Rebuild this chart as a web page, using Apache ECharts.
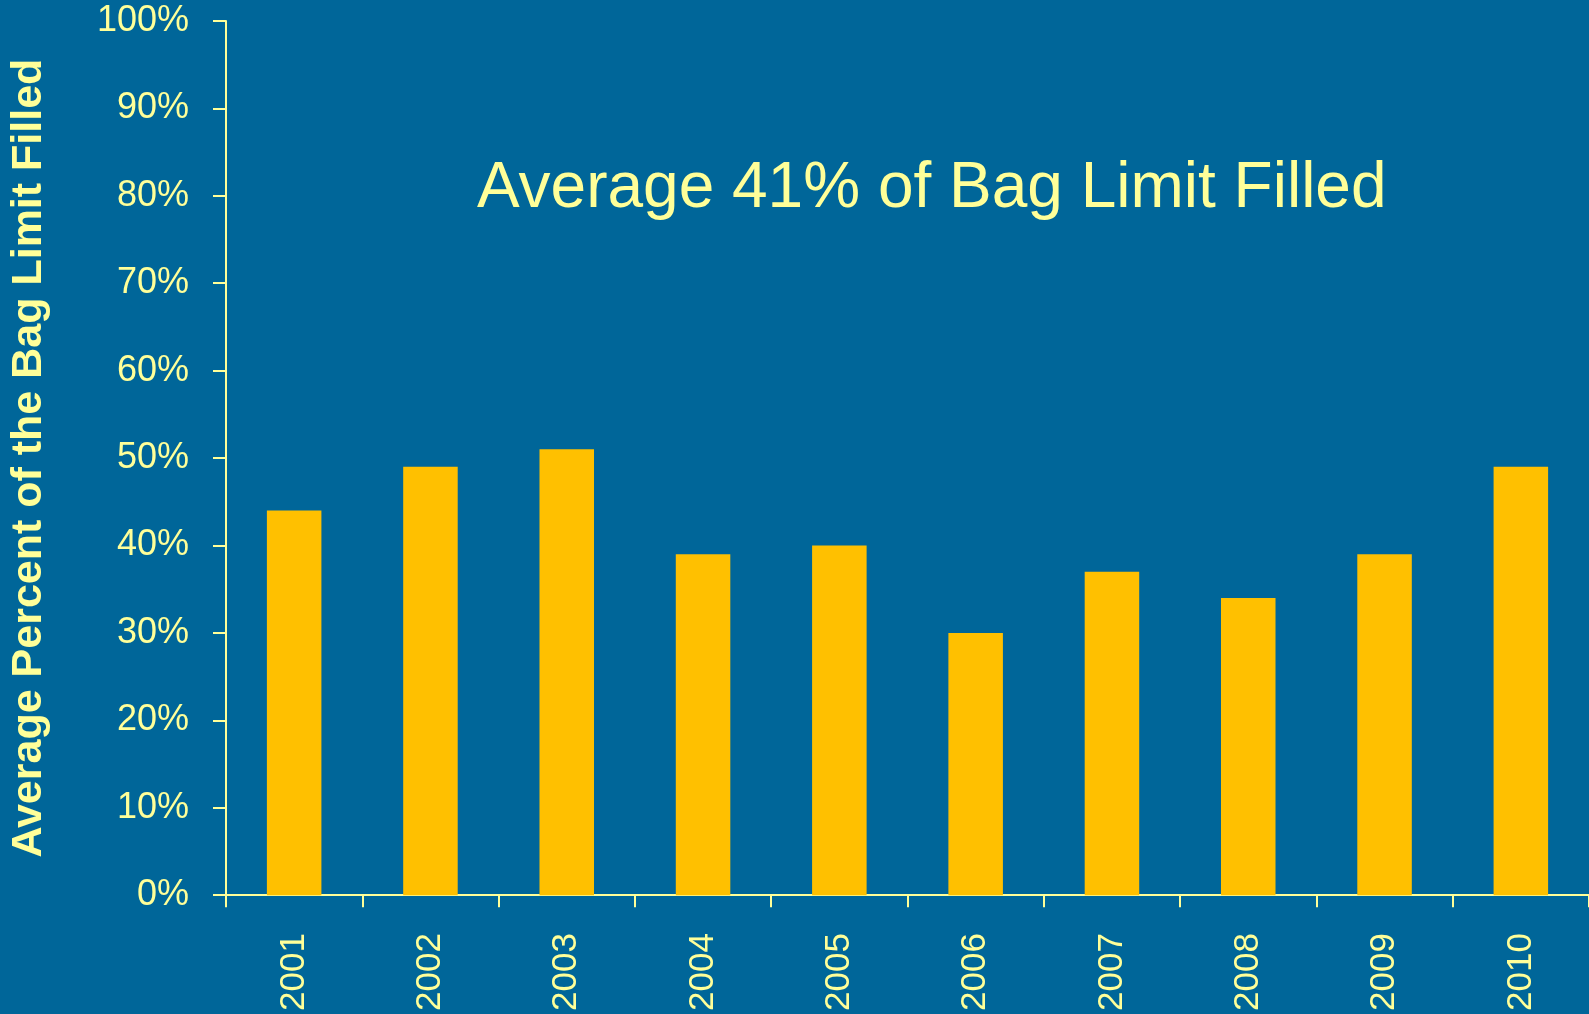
<!DOCTYPE html>
<html><head><meta charset="utf-8">
<style>html,body{margin:0;padding:0;background:#006699;}#c{width:1589px;height:1014px;}</style>
<script src="https://cdn.jsdelivr.net/npm/echarts@6/dist/echarts.min.js"></script>
</head><body><div id="c"></div>
<script>
const years = ['2001','2002','2003','2004','2005','2006','2007','2008','2009','2010'];
const pctFilled = [44, 49, 51, 39, 40, 30, 37, 34, 39, 49];
const yTicks = {min: 0, max: 100, interval: 10};
const titleText = 'Average 41% of Bag Limit Filled';
const yName = 'Average Percent of the Bag Limit Filled';

const txt = '#FFFF99';
const chart = echarts.init(document.getElementById('c'));
chart.setOption({
  backgroundColor: '#006699',
  animation: false,
  grid: {left: 224, right: -9, top: 21, bottom: 117},
  graphic: [{
    type: 'text', left: 477, top: 157,
    style: {text: titleText, fill: txt, font: '64px "Liberation Sans", Arial, sans-serif'}
  }],
  xAxis: {
    type: 'category', data: years,
    axisLine: {lineStyle: {color: txt, width: 2}},
    axisTick: {show: true, length: 12, lineStyle: {color: txt, width: 2}},
    axisLabel: {rotate: 90, color: txt, fontSize: 35, fontFamily: '"Liberation Sans", Arial, sans-serif', margin: 38}
  },
  yAxis: {
    type: 'value', min: yTicks.min, max: yTicks.max, interval: yTicks.interval,
    name: yName, nameLocation: 'middle', nameGap: 175, nameRotate: 90,
    nameTextStyle: {color: txt, fontSize: 43, fontWeight: 'bold', fontFamily: '"Liberation Sans", Arial, sans-serif'},
    splitLine: {show: false},
    axisLine: {show: true, lineStyle: {color: txt, width: 2}},
    axisTick: {show: true, length: 13, lineStyle: {color: txt, width: 2}},
    axisLabel: {color: txt, fontSize: 36, fontFamily: '"Liberation Sans", Arial, sans-serif', margin: 37, formatter: '{value}%'}
  },
  series: [{
    type: 'bar', data: pctFilled, barWidth: '40%',
    itemStyle: {color: '#FFC000'}
  }]
});
</script></body></html>
